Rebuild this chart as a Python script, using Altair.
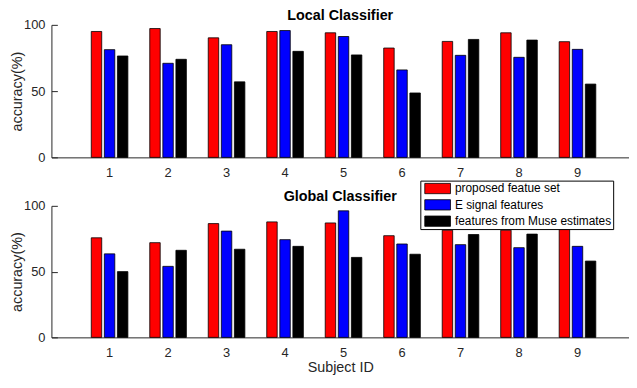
import altair as alt
import pandas as pd

subjects = [1, 2, 3, 4, 5, 6, 7, 8, 9]
series_names = ["proposed featue set", "E signal features", "features from Muse estimates"]
series_colors = ["#ff0000", "#0000ff", "#000000"]

local_proposed = [95.0, 97.2, 90.2, 95.0, 94.0, 82.5, 87.5, 94.0, 87.3]
local_esignal = [81.3, 71.0, 85.0, 95.7, 91.2, 66.0, 77.0, 75.5, 81.5]
local_muse = [76.5, 74.0, 57.0, 80.0, 77.3, 48.6, 89.0, 88.5, 55.3]

global_proposed = [75.7, 72.0, 86.5, 87.8, 87.0, 77.3, 81.5, 81.5, 87.0]
global_esignal = [63.5, 54.0, 80.8, 74.3, 96.2, 71.0, 70.5, 68.2, 69.2]
global_muse = [50.0, 66.2, 67.0, 69.2, 60.8, 63.2, 78.2, 78.5, 58.0]

y_tick_values = [0, 50, 100]

FONT = "Liberation Sans"
AXIS_COLOR = "#262626"


def long_table(a, b, c):
    rows = []
    for name, vals in zip(series_names, [a, b, c]):
        for s, v in zip(subjects, vals):
            rows.append({"subject": s, "series": name, "accuracy": v})
    return pd.DataFrame(rows)


legend = alt.Legend(
    orient="none", legendX=373, legendY=157.5, title=None, direction="vertical",
    fillColor="white", strokeColor="black", padding=1,
    symbolType="M-1,-0.8H3V0.8H-1Z", symbolSize=169,
    symbolStrokeColor="black", symbolStrokeWidth=0.8,
    labelFont=FONT, labelFontSize=12, labelColor="black", labelOffset=17,
    rowPadding=2.5, symbolOffset=3,
)


def panel(df, title, height, x_title, title_offset):
    x_axis = dict(
        labelAngle=0, tickSize=0, labelPadding=9, labelFontSize=13, labelFont=FONT,
        labelColor=AXIS_COLOR, domainColor=AXIS_COLOR, domainWidth=1, grid=False,
        title=None,
    )
    if x_title:
        x_axis.update(title=x_title, titleFontSize=14.5, titleFont=FONT,
                      titleFontWeight="normal", titleColor=AXIS_COLOR, titlePadding=1.5)
    x_enc = alt.X(
        "subject:O",
        scale=alt.Scale(paddingInner=0.374, paddingOuter=0.6245, align=0.5455),
        axis=alt.Axis(**x_axis),
    )
    xoff = alt.XOffset("series:N", sort=series_names,
                       scale=alt.Scale(paddingInner=0.2, paddingOuter=0))
    color = alt.Color("series:N", sort=series_names,
                      scale=alt.Scale(domain=series_names, range=series_colors),
                      legend=legend)
    yscale = alt.Scale(domain=[0, 100], nice=False, zero=True)
    y_main = alt.Y(
        "accuracy:Q", scale=yscale,
        axis=alt.Axis(
            orient="left", values=y_tick_values, tickSize=0, labelPadding=6.5,
            labelFontSize=13, labelFont=FONT, labelColor=AXIS_COLOR,
            domain=True, domainColor=AXIS_COLOR, domainWidth=1, grid=False,
            title="accuracy(%)", titleFontSize=14.5, titleFont=FONT,
            titleFontWeight="normal", titleColor=AXIS_COLOR, titlePadding=-1,
        ),
    )
    y_ticks = alt.Y(
        "accuracy:Q", scale=yscale,
        axis=alt.Axis(
            orient="left", offset=-6, values=y_tick_values, tickSize=6,
            tickColor=AXIS_COLOR, tickWidth=1, labels=False, domain=False,
            grid=False, title=None,
        ),
    )
    base = alt.Chart(df)
    bars = base.mark_bar(stroke="black", strokeWidth=0.8).encode(
        x=x_enc, xOffset=xoff, y=y_main, color=color
    )
    ticks = base.mark_bar(opacity=0).encode(
        x=x_enc, xOffset=xoff, y=y_ticks, color=color
    )
    return alt.layer(bars, ticks).resolve_axis(y="independent").properties(
        width=584, height=height,
        title=alt.Title(title, fontSize=14.5, fontWeight="bold", font=FONT,
                        color="black", anchor="middle", offset=title_offset),
    )


top = panel(long_table(local_proposed, local_esignal, local_muse),
            "Local Classifier", 134, None, -4.5)
bottom = panel(long_table(global_proposed, global_esignal, global_muse),
               "Global Classifier", 133, "Subject ID", -4.6)

chart = alt.vconcat(top, bottom, spacing=49, bounds="flush").properties(
    padding={"left": 0.9, "top": -2, "right": 0, "bottom": -1},
    background="white",
).configure_view(strokeWidth=0)

chart.save("out.html", embed_options={"renderer": "svg", "actions": False})
